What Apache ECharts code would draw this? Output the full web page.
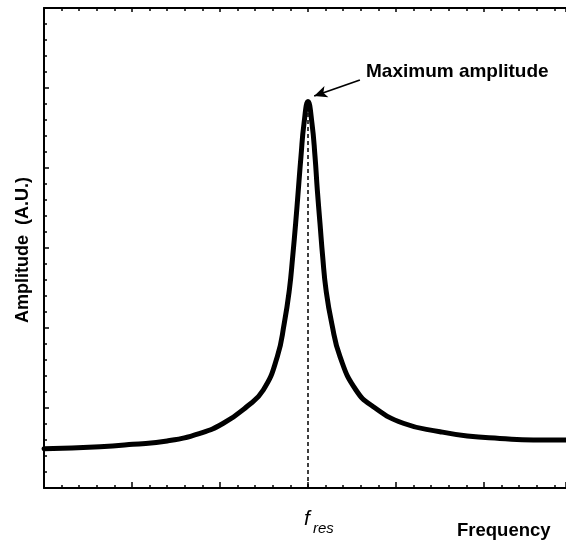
<!DOCTYPE html>
<html>
<head>
<meta charset="utf-8">
<script src="https://cdn.jsdelivr.net/npm/echarts@6/dist/echarts.min.js"></script>
<style>html,body{margin:0;padding:0;background:#fff;}#c{width:566px;height:543px;}</style>
</head>
<body>
<div id="c"></div>
<script>
// Data (x: frequency units, y: amplitude A.U.)
const freq = [0, 0.636, 1.01, 1.40, 1.773, 2.038, 2.303, 2.492, 2.651, 2.731, 2.788, 2.826, 2.860, 2.890, 2.920, 2.955, 3.0, 3.045, 3.080, 3.106, 3.136, 3.167, 3.205, 3.269, 3.364, 3.545, 3.742, 4.083, 4.5, 4.81, 5.18, 5.56, 5.93];
const amp  = [0.49, 0.516, 0.546, 0.588, 0.684, 0.809, 1.016, 1.225, 1.641, 2.063, 2.475, 2.891, 3.313, 3.725, 4.141, 4.559, 4.83, 4.559, 4.141, 3.725, 3.313, 2.891, 2.475, 2.063, 1.641, 1.225, 1.016, 0.809, 0.704, 0.65, 0.62, 0.60, 0.60];
const fRes = 3.0;
const peakAmp = 4.83;
const arrowStart = [3.59, 5.1];
const arrowEnd = [3.07, 4.9];
const xMin = 0, xMax = 5.932, yMin = 0, yMax = 6;
const labels = { annotation: 'Maximum amplitude', xName: 'Frequency', yName: 'Amplitude  (A.U.)', fMain: 'f', fSub: 'res' };

const data = freq.map((x, i) => [x, amp[i]]);
const chart = echarts.init(document.getElementById('c'), null, { renderer: 'canvas' });

const axisCommon = {
  type: 'value',
  axisLine: { show: true, lineStyle: { color: '#000', width: 2 } },
  axisTick: { show: true, inside: true, length: 6, lineStyle: { color: '#000', width: 1.5 } },
  minorTick: { show: true, splitNumber: 5, length: 3, lineStyle: { color: '#000', width: 1.5 } },
  axisLabel: { show: false },
  splitLine: { show: false },
  minorSplitLine: { show: false }
};

chart.setOption({
  animation: false,
  backgroundColor: '#fff',
  grid: { left: 44, top: 8, right: 0, bottom: 55, containLabel: false },
  xAxis: [
    Object.assign({}, axisCommon, { min: xMin, max: xMax, interval: 1, position: 'bottom' }),
    Object.assign({}, axisCommon, { min: xMin, max: xMax, interval: 1, position: 'top', axisTick: { show: true, inside: true, length: 4, lineStyle: { color: '#000', width: 1.5 } } })
  ],
  yAxis: [
    Object.assign({}, axisCommon, { min: yMin, max: yMax, interval: 1, position: 'left', axisTick: { show: true, inside: true, length: 5, lineStyle: { color: '#000', width: 1.5 } } })
  ],
  series: [{
    type: 'line',
    data: data,
    xAxisIndex: 0,
    yAxisIndex: 0,
    smooth: 0.5,
    showSymbol: false,
    lineStyle: { color: '#000', width: 5, cap: 'round', join: 'round' },
    markLine: {
      silent: true,
      animation: false,
      symbol: ['none', 'none'],
      label: { show: false },
      data: [
        [
          { coord: [fRes, yMin], lineStyle: { type: [4, 3], width: 1.5, color: '#000' } },
          { coord: [fRes, peakAmp] }
        ],
        [
          { coord: arrowStart, symbol: 'none', lineStyle: { type: 'solid', width: 1.8, color: '#000' } },
          { coord: arrowEnd, symbol: 'arrow', symbolSize: [9, 13] }
        ]
      ]
    }
  }],
  graphic: [
    { type: 'text', left: 366, top: 62, style: { text: labels.annotation, font: 'bold 19px "Liberation Sans", Arial, sans-serif', fill: '#000' } },
    { type: 'text', left: 457, top: 521, style: { text: labels.xName, font: 'bold 18.5px "Liberation Sans", Arial, sans-serif', fill: '#000' } },
    { type: 'text', x: 23, y: 250, rotation: Math.PI / 2, style: { text: labels.yName, font: 'bold 18px "Liberation Sans", Arial, sans-serif', fill: '#000', align: 'center', verticalAlign: 'middle' } },
    { type: 'text', left: 304, top: 509, style: { text: labels.fMain, font: 'italic 21px "Liberation Sans", Arial, sans-serif', fill: '#000' } },
    { type: 'text', left: 313, top: 521, style: { text: labels.fSub, font: 'italic 15px "Liberation Sans", Arial, sans-serif', fill: '#000' } }
  ]
});
</script>
</body>
</html>
